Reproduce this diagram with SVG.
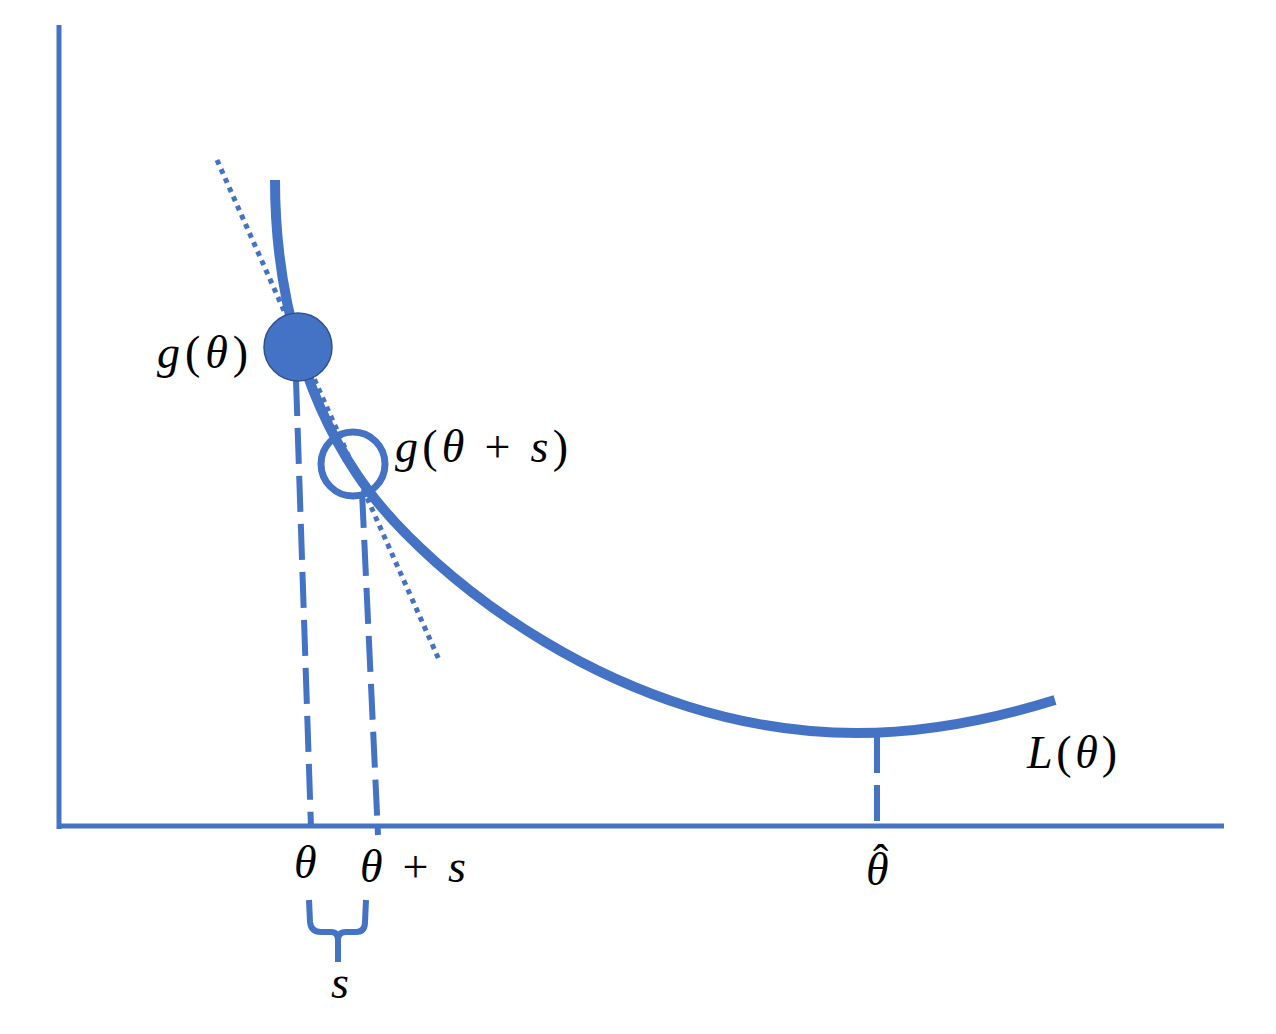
<svg xmlns="http://www.w3.org/2000/svg" width="1276" height="1034" viewBox="0 0 1276 1034">
<style>
.ax{stroke:#4472C4;stroke-width:5;fill:none}
.crv{stroke:#4472C4;stroke-width:10;fill:none}
.dash{stroke:#4472C4;stroke-width:6;fill:none;stroke-dasharray:36 12}
.dot{stroke:#4472C4;stroke-width:5;fill:none;stroke-dasharray:5 5}
.t{font-family:"Liberation Serif","DejaVu Serif",serif;font-size:46px;fill:#000}
.i{font-style:italic}
</style>
<rect width="1276" height="1034" fill="#fff"/>
<g id="axes">
<line class="ax" x1="59" y1="25" x2="59" y2="829"/>
<line class="ax" x1="57" y1="826" x2="1224" y2="826"/>
</g>
<g id="connectors">
<path class="crv" d="M275,180 C275,300 308,409 368,490 C428,571 617,733 857,733 C930,733 1000,717 1055,700"/>
<line class="dot" x1="217" y1="160" x2="440" y2="662"/>
<line class="dash" x1="296" y1="380" x2="311" y2="828"/>
<line class="dash" x1="362" y1="492" x2="378" y2="835"/>
<line class="dash" x1="877" y1="737" x2="877" y2="826"/>
<path d="M309,900 L310,922 Q311,932 321,932 L331,932 Q338,932 338,940 L338,962 M338,940 Q338,932 346,932 L356,932 Q365,932 365,922 L366,900" stroke="#4472C4" stroke-width="6" fill="none"/>
</g>
<g id="g-theta">
<circle cx="298" cy="347" r="34" fill="#4472C4" stroke="#2F528F" stroke-width="1.5"/>
<text class="t" x="157" y="368" textLength="91" lengthAdjust="spacing"><tspan class="i">g</tspan>(<tspan class="i">θ</tspan>)</text>
</g>
<g id="g-theta-s">
<circle cx="353" cy="464" r="32" fill="none" stroke="#4472C4" stroke-width="7"/>
<text class="t" x="395" y="462" textLength="173" lengthAdjust="spacing"><tspan class="i">g</tspan>(<tspan class="i">θ</tspan> + <tspan class="i">s</tspan>)</text>
</g>
<g id="labels">
<text class="t i" x="294" y="878">θ</text>
<text class="t" x="360" y="882" textLength="106" lengthAdjust="spacing"><tspan class="i">θ</tspan> + <tspan class="i">s</tspan></text>
<text class="t" x="866" y="885"><tspan class="i">θ</tspan><tspan x="873" y="877">ˆ</tspan></text>
<text class="t i" x="340" y="998" text-anchor="middle">s</text>
<text class="t" x="1027" y="768" textLength="90" lengthAdjust="spacing"><tspan class="i">L</tspan>(<tspan class="i">θ</tspan>)</text>
</g>
</svg>
